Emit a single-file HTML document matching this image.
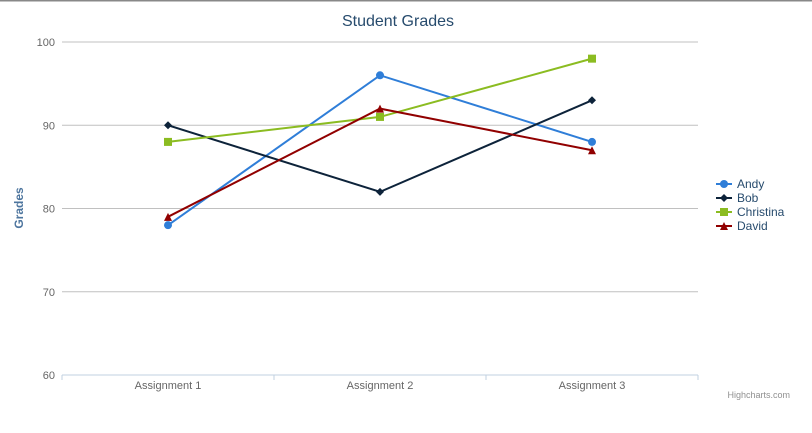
<!DOCTYPE html>
<html><head><meta charset="utf-8"><style>
body{margin:0;background:#fff;}
svg{display:block;font-family:"Liberation Sans",sans-serif;}
</style></head><body>
<svg id="chart" width="812" height="433">
<rect x="0" y="0" width="812" height="1.5" fill="#888"/>
<text x="398" y="26" text-anchor="middle" font-size="16" fill="#274b6d">Student Grades</text>
<text transform="translate(23,208) rotate(-90)" text-anchor="middle" font-size="12" font-weight="bold" fill="#4d759e">Grades</text>
<g id="grid"></g><g id="series"></g><g id="legend"></g>
<text x="790" y="398" text-anchor="end" font-size="9" fill="#909090">Highcharts.com</text>
</svg>
<script>
const categories=["Assignment 1","Assignment 2","Assignment 3"];
const yTicks=[60,70,80,90,100];
const seriesNames=["Andy","Bob","Christina","David"];
const andy=[78,96,88];
const bob=[90,82,93];
const christina=[88,91,98];
const david=[79,92,87];
const values=[andy,bob,christina,david];
const colors=["#2f7ed8","#0d233a","#8bbc21","#910000"];
const symbols=["circle","diamond","square","triangle"];
const NS="http://www.w3.org/2000/svg";
const L=62,R=698,T=42,B=375;
const y=v=>B-(v-60)/40*(B-T);
const cw=(R-L)/categories.length;
const x=i=>L+cw*(i+0.5);
function mk(t,a,p){const e=document.createElementNS(NS,t);for(const k in a)e.setAttribute(k,a[k]);p.appendChild(e);return e;}
const g=document.getElementById('grid');
yTicks.forEach(v=>{
  if(v>60){const l=mk('line',{x1:L,x2:R,y1:y(v),y2:y(v),stroke:'#c0c0c0','stroke-width':1},g);
  
  }
  const t=mk('text',{x:L-7,y:y(v)+4,'text-anchor':'end','font-size':11,fill:'#666'},g);t.textContent=v;
  
  
});
const ax=mk('line',{x1:L,x2:R,y1:B,y2:B,stroke:'#c0d0e0','stroke-width':1},g);


for(let i=0;i<=categories.length;i++){const tk=mk('line',{x1:L+cw*i,x2:L+cw*i,y1:B,y2:B+5,stroke:'#c0d0e0'},g);

}
categories.forEach((c,i)=>{const t=mk('text',{x:x(i),y:B+14,'text-anchor':'middle','font-size':11,fill:'#666'},g);t.textContent=c;

});
function marker(s,cx,cy,c,p){
  let e;
  if(s=='circle')e=mk('circle',{cx,cy,r:4,fill:c},p);
  else if(s=='diamond')e=mk('path',{d:`M${cx},${cy-4}L${cx+4},${cy}L${cx},${cy+4}L${cx-4},${cy}Z`,fill:c},p);
  else if(s=='square')e=mk('rect',{x:cx-4,y:cy-4,width:8,height:8,fill:c},p);
  else e=mk('path',{d:`M${cx},${cy-4}L${cx+4},${cy+4}L${cx-4},${cy+4}Z`,fill:c},p);
  return e;
}
const sg=document.getElementById('series');
values.forEach((vals,si)=>{
  const pl=mk('polyline',{points:vals.map((v,i)=>x(i)+','+y(v)).join(' '),fill:'none',stroke:colors[si],'stroke-width':2},sg);
  
  
  vals.forEach((v,i)=>{const m=marker(symbols[si],x(i),y(v),colors[si],sg);
  
  });
});
const lg=document.getElementById('legend');
seriesNames.forEach((n,i)=>{
  const yy=184+i*14;
  const it=mk('g',{},lg);
  
  
  mk('line',{x1:716,x2:732,y1:yy,y2:yy,stroke:colors[i],'stroke-width':2},it);
  marker(symbols[i],724,yy,colors[i],it);
  const t=mk('text',{x:737,y:yy+4,'font-size':12,fill:'#274b6d'},it);t.textContent=n;
});
</script>
</body></html>
